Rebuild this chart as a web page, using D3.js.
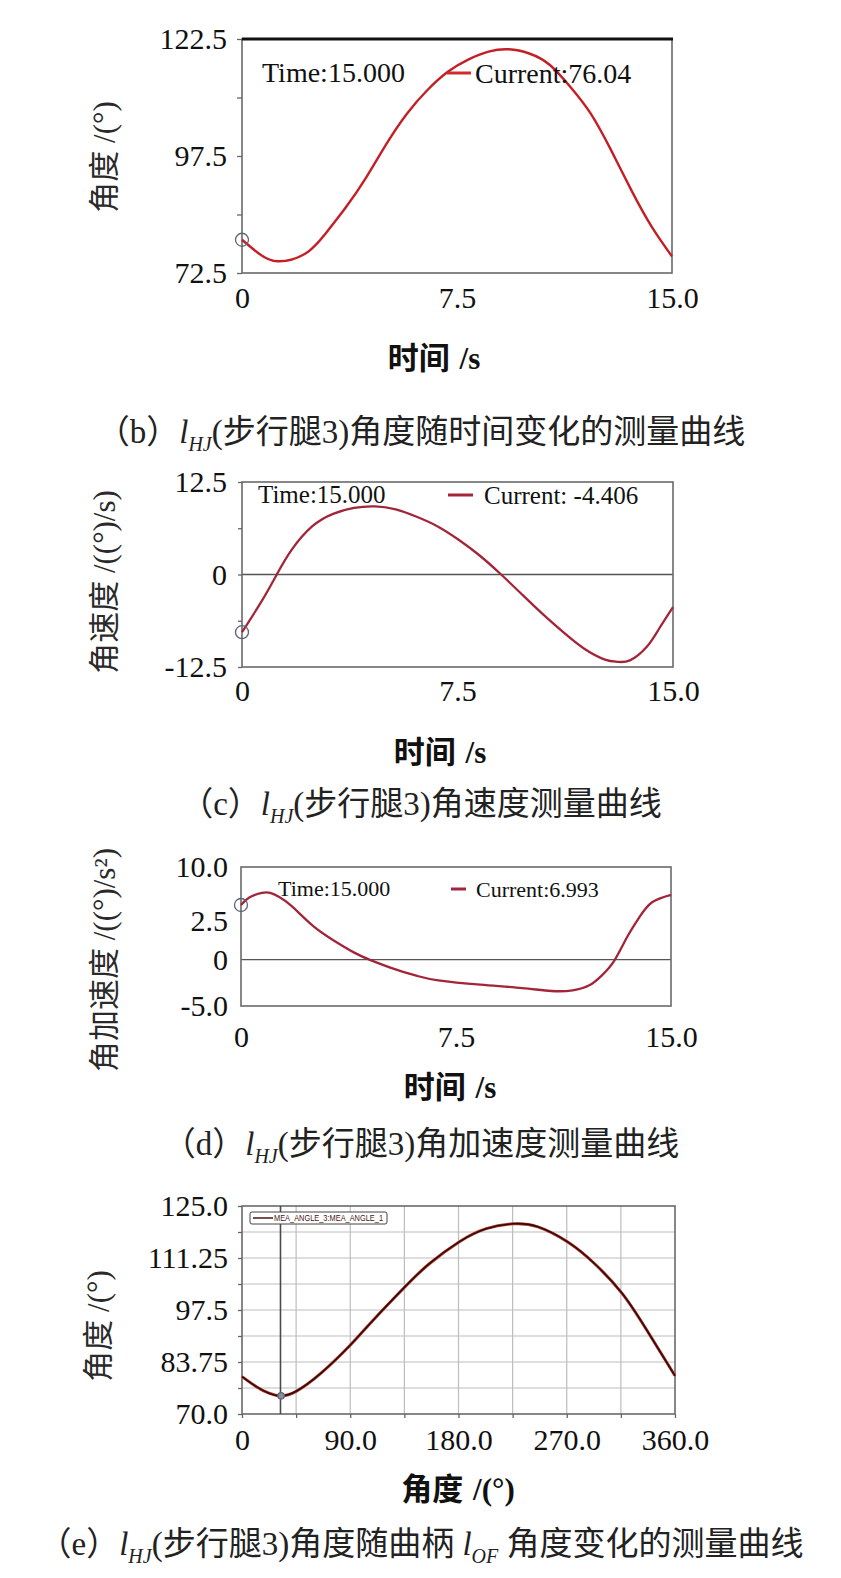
<!DOCTYPE html>
<html>
<head>
<meta charset="utf-8">
<script src="https://cdn.jsdelivr.net/npm/d3@7"></script>
<style>
  body { margin: 0; background: #fff; }
  svg { display: block; }
</style>
</head>
<body>
<div id="chart"></div>
<script>
// (b) l_HJ angle vs time
const bTime = [0, 0.6, 1.25, 2.2, 2.91, 3.63, 4.34, 5.05, 5.76, 6.47, 7.18, 7.89, 8.6, 9.31, 10.02, 10.73, 11.45, 12.16, 12.87, 13.58, 14.29, 15];
const bAngle = [79.6, 76.6, 75.0, 76.6, 80.9, 86.6, 93.0, 100.2, 106.6, 111.6, 115.5, 118.1, 119.8, 120.3, 119.4, 117.0, 112.3, 106.6, 98.8, 90.2, 82.4, 76.04];

// (c) angular velocity vs time
const cTime = [0, 0.7, 1.21, 1.72, 2.44, 3.17, 3.9, 4.63, 5.35, 6.08, 6.81, 7.54, 8.26, 8.99, 9.72, 10.45, 11.18, 11.9, 12.63, 13.07, 13.5, 14.08, 14.52, 15];
const cRate = [-7.8, -3.5, 0, 3.3, 6.5, 8.2, 9.0, 9.2, 8.8, 7.8, 6.5, 4.7, 2.6, 0.1, -2.6, -5.3, -7.8, -10.0, -11.5, -11.8, -11.6, -9.8, -7.3, -4.406];

// (d) angular acceleration vs time
const dTime = [0, 0.29, 0.73, 1.02, 1.32, 1.76, 2.49, 3.22, 3.95, 4.54, 5.42, 6.15, 6.88, 8.35, 9.81, 10.83, 11.57, 12.15, 12.59, 13.03, 13.47, 13.9, 14.34, 15];
const dAccel = [5.9, 6.7, 7.2, 7.2, 6.8, 5.8, 3.7, 2.1, 0.76, -0.07, -1.08, -1.76, -2.23, -2.7, -3.06, -3.38, -3.31, -2.77, -1.69, -0.07, 2.45, 4.6, 6.2, 6.993];

// (e) l_HJ angle vs crank l_OF angle
const eCrank = [0, 11.6, 22.4, 32.5, 45, 65.7, 90.3, 109, 135.4, 156, 180.5, 203, 225.7, 246, 270.8, 293, 316, 336.5, 360];
const eAngle = [79.9, 77.3, 75.5, 74.8, 76.0, 80.8, 88.3, 94.8, 103.6, 109.8, 115.5, 119.0, 120.3, 119.5, 115.5, 109.8, 101.9, 92.2, 80.1];
const eMarker = 32;

// ticks
const timeTicks = [0, 7.5, 15];
const timeTickLabels = ["0", "7.5", "15.0"];
const bYTicks = [122.5, 110, 97.5, 85, 72.5];
const bYLabels = ["122.5", "", "97.5", "", "72.5"];
const cYTicks = [12.5, 6.25, 0, -6.25, -12.5];
const cYLabels = ["12.5", "", "0", "", "-12.5"];
const dYTicks = [10, 4.2, 0, -5];
const dYLabels = ["10.0", "2.5", "0", "-5.0"];
const eXTicks = [0, 45, 90, 135, 180, 225, 270, 315, 360];
const eXLabels = ["0", "", "90.0", "", "180.0", "", "270.0", "", "360.0"];
const eYTicks = [125, 118.125, 111.25, 104.375, 97.5, 90.625, 83.75, 76.875, 70];
const eYLabels = ["125.0", "", "111.25", "", "97.5", "", "83.75", "", "70.0"];

const SERIF = "'Liberation Serif','Noto Sans CJK SC',serif";

const svg = d3.select("#chart").append("svg")
  .attr("width", 841)
  .attr("height", 1578);

const drawPanel = (p) => {
  const x = d3.scaleLinear().domain(p.xDomain).range([p.left, p.right]);
  const y = d3.scaleLinear().domain(p.yDomain).range([p.bottom, p.top]);
  const g = svg.append("g");

  // grid
  if (p.grid) {
    g.append("g").selectAll("line")
      .data(p.xTicks.slice(1, -1))
      .join("line")
      .attr("x1", (d) => x(d)).attr("x2", (d) => x(d))
      .attr("y1", p.top).attr("y2", p.bottom)
      .attr("stroke", "#bdbdbd").attr("stroke-width", 1.2);
    g.append("g").selectAll("line")
      .data(p.yTicks.slice(1, -1))
      .join("line")
      .attr("x1", p.left).attr("x2", p.right)
      .attr("y1", (d) => y(d)).attr("y2", (d) => y(d))
      .attr("stroke", "#bdbdbd").attr("stroke-width", 1.2);
  }

  // zero line
  if (p.zeroLine) {
    g.append("line")
      .attr("x1", p.left).attr("x2", p.right)
      .attr("y1", y(0)).attr("y2", y(0))
      .attr("stroke", "#555").attr("stroke-width", 1.4);
  }

  // frame
  g.append("rect")
    .attr("x", p.left).attr("y", p.top)
    .attr("width", p.right - p.left).attr("height", p.bottom - p.top)
    .attr("fill", "none").attr("stroke", "#6a6a6a").attr("stroke-width", 1.6);
  if (p.thickTop) {
    g.append("line")
      .attr("x1", p.left).attr("x2", p.right + 1)
      .attr("y1", p.top).attr("y2", p.top)
      .attr("stroke", "#111").attr("stroke-width", 3);
  }

  // axes
  const yAxis = g.append("g")
    .attr("transform", `translate(${p.left},0)`)
    .call(d3.axisLeft(y).tickValues(p.yTicks).tickSize(p.yTickSize)
      .tickPadding(p.yPad).tickFormat((d, i) => p.yLabels[i]));
  const xAxis = g.append("g")
    .attr("transform", `translate(0,${p.bottom})`)
    .call(d3.axisBottom(x).tickValues(p.xTicks).tickSize(p.xTickSize)
      .tickPadding(p.xPad).tickFormat((d, i) => p.xLabels[i]));
  [xAxis, yAxis].forEach((a) => {
    a.select(".domain").remove();
    a.selectAll(".tick line").attr("stroke", "#666").attr("stroke-width", 1.3);
    a.selectAll(".tick text")
      .attr("fill", "#111")
      .style("font-family", SERIF)
      .style("font-size", "30px");
  });

  // vertical marker (panel e)
  if (p.marker !== undefined) {
    g.append("line")
      .attr("x1", x(p.marker)).attr("x2", x(p.marker))
      .attr("y1", p.top).attr("y2", p.bottom)
      .attr("stroke", "#4a4a4a").attr("stroke-width", 1.6);
  }

  // curve
  const pts = p.xs.map((v, i) => [v, p.ys[i]]);
  const line = d3.line()
    .x((d) => x(d[0]))
    .y((d) => y(d[1]))
    .curve(d3.curveNatural);
  if (p.halo) {
    g.append("path").attr("d", line(pts)).attr("fill", "none")
      .attr("stroke", p.halo).attr("stroke-width", p.lineWidth + 1.4);
  }
  g.append("path").attr("d", line(pts)).attr("fill", "none")
    .attr("stroke", p.color).attr("stroke-width", p.lineWidth);

  // start / cursor marker
  if (p.circleAt) {
    const i = p.circleAt.index;
    g.append("circle")
      .attr("cx", x(p.xs[i])).attr("cy", y(p.ys[i]))
      .attr("r", p.circleAt.r)
      .attr("fill", p.circleAt.fill)
      .attr("stroke", "#5c6678").attr("stroke-width", 1.3);
  }

  // axis titles
  svg.append("text")
    .attr("transform", `translate(${p.yTitleX},${p.yTitleY}) rotate(-90)`)
    .attr("text-anchor", "middle").attr("dy", "0.35em")
    .attr("fill", "#2a2a2a")
    .style("font-family", SERIF).style("font-size", "31px")
    .text(p.yTitle);
  svg.append("text")
    .attr("x", p.xTitleX).attr("y", p.xTitleY)
    .attr("text-anchor", "middle").attr("dy", "0.35em")
    .attr("fill", "#111").attr("font-weight", "bold")
    .style("font-family", SERIF).style("font-size", "31px")
    .style("word-spacing", "2px")
    .text(p.xTitle);
  return { x, y, g };
};

const annotate = (a) => {
  svg.append("text")
    .attr("x", a.tx).attr("y", a.y).attr("dy", "0.35em")
    .attr("fill", "#111")
    .style("font-family", SERIF).style("font-size", a.size + "px")
    .text(a.time);
  svg.append("line")
    .attr("x1", a.lx1).attr("x2", a.lx2)
    .attr("y1", a.y + 1).attr("y2", a.y + 1)
    .attr("stroke", a.color).attr("stroke-width", 3);
  svg.append("text")
    .attr("x", a.cx).attr("y", a.y + 1).attr("dy", "0.35em")
    .attr("fill", "#111")
    .style("font-family", SERIF).style("font-size", a.size + "px")
    .text(a.current);
};

const caption = (yPos, parts) => {
  const t = svg.append("text")
    .attr("x", 421).attr("y", yPos)
    .attr("text-anchor", "middle").attr("dy", "0.35em")
    .attr("fill", "#222")
    .style("font-family", SERIF).style("font-size", "33px");
  let shifted = 0;
  parts.forEach((part) => {
    const s = t.append("tspan").text(part.t);
    if (part.it) s.attr("font-style", "italic");
    if (part.sub) {
      s.attr("dy", 8).style("font-size", "20px").attr("font-style", "italic");
      shifted = 8;
    } else if (shifted) {
      s.attr("dy", -shifted);
      shifted = 0;
    }
  });
};

// ---- (b)
drawPanel({
  left: 242, right: 672, top: 39, bottom: 273,
  xDomain: [0, 15], yDomain: [72.5, 122.5],
  xTicks: timeTicks, xLabels: timeTickLabels, xTickSize: 0, xPad: 14,
  yTicks: bYTicks, yLabels: bYLabels, yTickSize: 5, yPad: 10,
  thickTop: true,
  xs: bTime, ys: bAngle, color: "#c41f26", lineWidth: 2.4,
  circleAt: { index: 0, r: 6.5, fill: "none" },
  yTitle: "角度 /(°)", yTitleX: 104, yTitleY: 157,
  xTitle: "时间 /s", xTitleX: 434, xTitleY: 358
});
annotate({ tx: 262, y: 72, size: 28, time: "Time:15.000",
  lx1: 447, lx2: 471, color: "#cf2a2e", cx: 475, current: "Current:76.04" });
caption(431, [{ t: "（b）" }, { t: "l", it: true }, { t: "HJ", sub: true },
  { t: "(步行腿3)角度随时间变化的测量曲线" }]);

// ---- (c)
drawPanel({
  left: 242, right: 673, top: 482, bottom: 667,
  xDomain: [0, 15], yDomain: [-12.5, 12.5],
  xTicks: timeTicks, xLabels: timeTickLabels, xTickSize: 0, xPad: 13,
  yTicks: cYTicks, yLabels: cYLabels, yTickSize: 4, yPad: 11,
  zeroLine: true,
  xs: cTime, ys: cRate, color: "#a3253a", lineWidth: 2.3,
  circleAt: { index: 0, r: 6.5, fill: "none" },
  yTitle: "角速度 /((°)/s)", yTitleX: 104, yTitleY: 582,
  xTitle: "时间 /s", xTitleX: 440, xTitleY: 752
});
annotate({ tx: 258, y: 494, size: 25, time: "Time:15.000",
  lx1: 448, lx2: 473, color: "#a3253a", cx: 484, current: "Current: -4.406" });
caption(803, [{ t: "（c）" }, { t: "l", it: true }, { t: "HJ", sub: true },
  { t: "(步行腿3)角速度测量曲线" }]);

// ---- (d)
drawPanel({
  left: 241, right: 671, top: 867, bottom: 1006,
  xDomain: [0, 15], yDomain: [-5, 10],
  xTicks: timeTicks, xLabels: timeTickLabels, xTickSize: 0, xPad: 20,
  yTicks: dYTicks, yLabels: dYLabels, yTickSize: 0, yPad: 13,
  zeroLine: true,
  xs: dTime, ys: dAccel, color: "#a3253a", lineWidth: 2.3,
  circleAt: { index: 0, r: 6.5, fill: "none" },
  yTitle: "角加速度 /((°)/s²)", yTitleX: 104, yTitleY: 960,
  xTitle: "时间 /s", xTitleX: 450, xTitleY: 1087
});
annotate({ tx: 278, y: 888, size: 22, time: "Time:15.000",
  lx1: 451, lx2: 466, color: "#a3253a", cx: 476, current: "Current:6.993" });
caption(1143, [{ t: "（d）" }, { t: "l", it: true }, { t: "HJ", sub: true },
  { t: "(步行腿3)角加速度测量曲线" }]);

// ---- (e)
const e = drawPanel({
  left: 242, right: 675, top: 1206, bottom: 1414,
  xDomain: [0, 360], yDomain: [70, 125],
  xTicks: eXTicks, xLabels: eXLabels, xTickSize: 4, xPad: 11,
  yTicks: eYTicks, yLabels: eYLabels, yTickSize: 4, yPad: 10,
  grid: true, marker: eMarker,
  xs: eCrank, ys: eAngle, color: "#2a0d0d", halo: "#c0392b", lineWidth: 1.6,
  circleAt: { index: 3, r: 3.2, fill: "#8a8f99" },
  yTitle: "角度 /(°)", yTitleX: 98, yTitleY: 1326,
  xTitle: "角度 /(°)", xTitleX: 458, xTitleY: 1489
});
// legend box
e.g.append("rect")
  .attr("x", 250).attr("y", 1212).attr("width", 137).attr("height", 12)
  .attr("rx", 2).attr("fill", "#fff").attr("stroke", "#444").attr("stroke-width", 1);
e.g.append("line")
  .attr("x1", 253).attr("x2", 273).attr("y1", 1218).attr("y2", 1218)
  .attr("stroke", "#4a1414").attr("stroke-width", 1.5);
e.g.append("text")
  .attr("x", 274).attr("y", 1218).attr("dy", "0.35em")
  .attr("textLength", 109).attr("lengthAdjust", "spacingAndGlyphs")
  .attr("fill", "#4a1414")
  .style("font-family", "'Liberation Sans',sans-serif").style("font-size", "8.5px")
  .text("MEA_ANGLE_3:MEA_ANGLE_1");
caption(1543, [{ t: "（e）" }, { t: "l", it: true }, { t: "HJ", sub: true },
  { t: "(步行腿3)角度随曲柄 " }, { t: "l", it: true }, { t: "OF", sub: true },
  { t: " 角度变化的测量曲线" }]);
</script>
</body>
</html>
